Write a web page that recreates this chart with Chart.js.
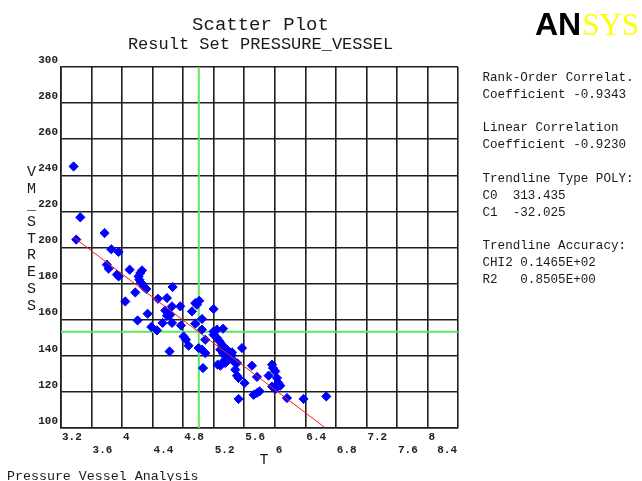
<!DOCTYPE html>
<html>
<head>
<meta charset="utf-8">
<title>Scatter Plot</title>
<script src="https://cdn.jsdelivr.net/npm/chart.js@4.4.1/dist/chart.umd.min.js"></script>
<style>
  html, body { margin: 0; padding: 0; background: #fff; }
  #chart { display: block; }
</style>
</head>
<body>
<canvas id="chart" width="642" height="481"></canvas>
<script>
// wall thickness T and von Mises stress, one entry per sample
const thickness = [
  3.365, 3.453, 3.400, 3.771, 3.859, 3.954, 3.800, 3.823, 3.933, 3.955,
  4.099, 4.239, 4.261, 4.216, 4.226, 4.250, 4.282, 4.317, 4.042, 4.173,
  4.470, 4.588, 4.662, 4.654, 4.762, 4.566, 4.609, 4.631, 4.588, 4.334,
  4.203, 4.383, 4.457, 4.531, 4.654, 4.771, 4.806, 4.837, 4.871, 4.622,
  4.959, 4.981, 5.011, 4.916, 5.199, 4.959, 5.047, 5.002, 5.047, 5.090,
  5.060, 5.090, 5.047, 5.199, 5.243, 5.322, 5.199, 5.243, 5.277, 5.309,
  5.330, 5.374, 5.287, 5.322, 5.352, 5.395, 5.440, 5.417, 5.330, 5.252,
  5.287, 5.352, 5.571, 5.505, 5.483, 5.505, 5.526, 5.605, 5.526, 5.701,
  5.767, 5.723, 5.767, 5.801, 5.964, 5.977, 6.007, 5.919, 6.029, 6.050,
  6.072, 5.964, 6.007, 6.160, 6.377, 6.675, 5.461, 5.440
];
const vmStress = [
  244.9, 216.7, 204.4, 208.0, 199.0, 197.5, 190.5, 188.3, 185.0, 184.0,
  187.7, 185.9, 187.3, 184.0, 182.2, 180.5, 178.4, 177.0, 170.1, 175.1,
  171.6, 172.0, 178.1, 167.4, 167.4, 165.1, 163.7, 162.8, 162.2, 163.3,
  159.6, 156.0, 154.1, 158.2, 158.2, 156.8, 150.7, 148.9, 145.6, 142.4,
  169.2, 168.3, 170.5, 164.6, 165.9, 157.8, 160.4, 144.3, 143.4, 141.5,
  133.2, 148.9, 154.5, 153.5, 154.5, 155.0, 151.7, 149.9, 148.0, 146.1,
  144.9, 143.4, 143.4, 141.5, 139.7, 141.5, 141.9, 138.8, 136.9, 135.1,
  134.5, 136.0, 144.3, 136.0, 132.3, 129.0, 127.7, 124.9, 116.1, 134.5,
  128.3, 118.4, 119.4, 120.3, 135.1, 133.2, 131.4, 129.0, 127.7, 124.9,
  123.4, 123.0, 121.6, 116.6, 116.1, 117.5, 136.9, 140.0
];

const xTicks = [3.2, 3.6, 4, 4.4, 4.8, 5.2, 5.6, 6, 6.4, 6.8, 7.2, 7.6, 8, 8.4];
const yTicks = [100, 120, 140, 160, 180, 200, 220, 240, 260, 280, 300];

// trendline coefficients (y = c0 + c1 * x) and mean crosshair
const c0 = 313.435;
const c1 = -32.025;
const meanT = 5.005;
const meanStress = 153.3;

const statsLines = [
  'Rank-Order Correlat.',
  'Coefficient -0.9343',
  '',
  'Linear Correlation',
  'Coefficient -0.9230',
  '',
  'Trendline Type POLY:',
  'C0  ' + c0.toFixed(3),
  'C1  ' + c1.toFixed(3),
  '',
  'Trendline Accuracy:',
  'CHI2 0.1465E+02',
  'R2   0.8505E+00'
];

const yTitle = ['V', 'M', '_', 'S', 'T', 'R', 'E', 'S', 'S'];

const points = thickness.map((t, i) => ({ x: t, y: vmStress[i] }));
const tMin = Math.min(...thickness);
const tMax = Math.max(...thickness);
const trend = [tMin, tMax].map(t => ({ x: t, y: c0 + c1 * t }));

const yLo = yTicks[0], yHi = yTicks[yTicks.length - 1];
const xLo = xTicks[0], xHi = xTicks[xTicks.length - 1];

const MONO = '"Liberation Mono", "DejaVu Sans Mono", monospace';
const INK = '#1a1a1a';
const GRID = '#1e1e1e';

// text around the plot: titles, staggered x labels, axis names, stats, logo
const overlay = {
  id: 'overlay',
  afterDraw(chart) {
    const { ctx, chartArea: a } = chart;
    const xs = chart.scales.x;
    const cx = (a.left + a.right) / 2;

    ctx.save();
    ctx.fillStyle = INK;
    ctx.textAlign = 'center';
    ctx.textBaseline = 'alphabetic';
    ctx.font = '19px ' + MONO;
    ctx.fillText('Scatter Plot', cx + 1, 30);
    ctx.font = '17px ' + MONO;
    ctx.fillText('Result Set PRESSURE_VESSEL', cx + 1, 49);

    ctx.font = 'bold 11px ' + MONO;
    ctx.fillStyle = '#222';
    ctx.textBaseline = 'middle';
    xTicks.forEach((v, i) => {
      const last = i === xTicks.length - 1;
      ctx.textAlign = last ? 'right' : 'left';
      ctx.fillText(String(v), xs.getPixelForValue(v) + (last ? -1 : 1), i % 2 ? 450.5 : 437.5);
    });

    ctx.fillStyle = INK;
    ctx.font = '15px ' + MONO;
    ctx.textAlign = 'center';
    ctx.fillText('T', 264, 460);
    yTitle.forEach((ch, i) => ctx.fillText(ch, 31.5, 172 + i * 16.7));

    ctx.textAlign = 'left';
    ctx.font = '12.6px ' + MONO;
    statsLines.forEach((line, i) => ctx.fillText(line, 482.5, 77.5 + i * 16.85));

    ctx.font = '13.3px ' + MONO;
    ctx.fillText('Pressure Vessel Analysis', 7, 476);

    ctx.textBaseline = 'alphabetic';
    ctx.font = 'bold 32px "Liberation Sans", Arial, sans-serif';
    ctx.fillStyle = '#000';
    ctx.fillText('AN', 535, 35);
    const w = ctx.measureText('AN').width;
    ctx.font = '31px "Liberation Serif", "Times New Roman", serif';
    ctx.fillStyle = '#ffff00';
    ctx.fillText('SYS', 535 + w + 1, 35);
    ctx.restore();
  }
};

new Chart(document.getElementById('chart'), {
  type: 'scatter',
  data: {
    datasets: [
      {
        label: 'Trendline',
        data: trend,
        showLine: true,
        borderColor: '#ff1a1a',
        borderWidth: 1,
        pointRadius: 0
      },
      {
        label: 'VM_STRESS',
        data: points,
        pointStyle: 'rectRot',
        pointRadius: 4.6,
        borderWidth: 1,
        backgroundColor: '#0000ff',
        borderColor: '#0000ff'
      },
      {
        label: 'mean T',
        data: [{ x: meanT, y: yLo }, { x: meanT, y: yHi }],
        showLine: true,
        borderColor: '#5fe65f',
        borderWidth: 2,
        pointRadius: 0
      },
      {
        label: 'mean stress',
        data: [{ x: xLo, y: meanStress }, { x: xHi, y: meanStress }],
        showLine: true,
        borderColor: '#5fe65f',
        borderWidth: 2,
        pointRadius: 0
      }
    ]
  },
  options: {
    responsive: false,
    animation: false,
    devicePixelRatio: 1,
    events: [],
    layout: { padding: { left: 0, top: 67, right: 184, bottom: 0 } },
    plugins: {
      legend: { display: false },
      tooltip: { enabled: false }
    },
    scales: {
      x: {
        type: 'linear',
        min: xLo,
        max: xHi,
        afterBuildTicks: s => { s.ticks = xTicks.map(v => ({ value: v })); },
        afterFit: s => { s.height = 53; },
        ticks: { display: false, autoSkip: false },
        grid: { color: GRID, lineWidth: 1.6, drawTicks: false },
        border: { color: GRID, width: 1.6 }
      },
      y: {
        type: 'linear',
        min: yLo,
        max: yHi,
        afterBuildTicks: s => { s.ticks = yTicks.map(v => ({ value: v })); },
        afterFit: s => { s.width = 61; },
        ticks: {
          autoSkip: false,
          padding: 3,
          labelOffset: -7,
          color: '#222',
          font: { family: MONO, size: 11, weight: 'bold' }
        },
        grid: { color: GRID, lineWidth: 1.6, drawTicks: false },
        border: { color: GRID, width: 1.6 }
      }
    }
  },
  plugins: [overlay]
});
</script>
</body>
</html>
